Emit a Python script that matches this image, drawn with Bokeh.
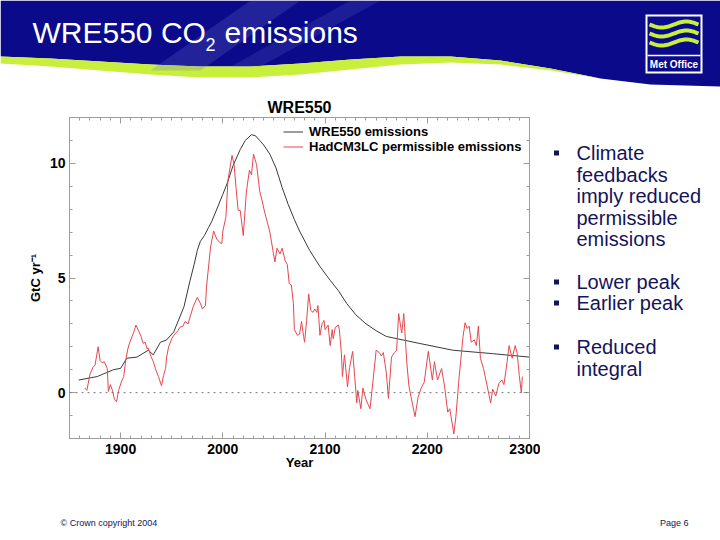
import numpy as np
from bokeh.plotting import figure
from bokeh.layouts import column, row
from bokeh.models import (Range1d, LinearAxis, SingleIntervalTicker, Span, CustomJSTickFormatter,
                          Legend, LegendItem)
from bokeh.embed import file_html
from bokeh.resources import INLINE
from bokeh.core.properties import value

# ---------------- data ----------------
wre_years = [1859, 1877, 1893, 1900, 1906, 1916, 1927, 1932, 1939, 1945,
             1952, 1962, 1968, 1972, 1975, 1978, 1982, 1986, 1989, 1995,
             2000, 2004, 2010, 2017, 2022, 2028, 2032, 2036, 2040, 2046,
             2052, 2058, 2064, 2070, 2075, 2085, 2095, 2105, 2113, 2121,
             2130, 2140, 2150, 2160, 2192, 2225, 2264, 2300]
wre_vals = [0.55, 0.7, 1.0, 1.06, 1.5, 1.55, 1.85, 1.65, 2.2, 2.3,
            2.65, 3.75, 4.9, 5.6, 6.2, 6.6, 6.85, 7.2, 7.45, 8.1,
            8.65, 9.1, 9.9, 10.6, 11.0, 11.25, 11.2, 11.0, 10.8, 10.4,
            9.8, 8.95, 8.2, 7.55, 7.05, 6.2, 5.5, 4.9, 4.45, 3.9,
            3.4, 3.0, 2.7, 2.45, 2.15, 1.85, 1.7, 1.55]
assert len(wre_years) == len(wre_vals)

had_years = [1865, 1867, 1870, 1873, 1875, 1878, 1880, 1882, 1884, 1887,
             1888, 1890, 1892, 1894, 1896, 1898, 1901, 1903, 1905, 1907,
             1909, 1913, 1915, 1918, 1920, 1922, 1924, 1926, 1927, 1930,
             1932, 1934, 1937, 1940, 1942, 1944, 1945, 1947, 1950, 1952,
             1954, 1956, 1958, 1961, 1963, 1966, 1968, 1971, 1975, 1978,
             1980, 1983, 1984, 1988, 1991, 1994, 1997, 1999, 2000, 2003,
             2005, 2009, 2011, 2013, 2015, 2017, 2020, 2023, 2026, 2028,
             2030, 2033, 2036, 2038, 2041, 2044, 2046, 2049, 2051, 2053,
             2056, 2058, 2061, 2063, 2065, 2067, 2069, 2070, 2073, 2075,
             2077, 2079, 2080, 2082, 2084, 2086, 2088, 2090, 2092, 2093,
             2095, 2097, 2099, 2100, 2103, 2105, 2107, 2108, 2110, 2113,
             2114, 2116, 2117, 2119, 2122, 2124, 2127, 2129, 2131, 2132,
             2135, 2137, 2140, 2144, 2147, 2150, 2153, 2155, 2157, 2160,
             2162, 2165, 2168, 2170, 2172, 2175, 2177, 2180, 2182, 2184,
             2188, 2191, 2194, 2197, 2201, 2205, 2207, 2210, 2214, 2217,
             2220, 2222, 2226, 2228, 2231, 2235, 2237, 2239, 2241, 2243,
             2246, 2248, 2250, 2252, 2255, 2259, 2262, 2264, 2267, 2270,
             2273, 2275, 2278, 2280, 2283, 2286, 2288, 2290, 2292, 2293]
had_vals = [0.2, 0.1, 0.8, 1.1, 1.2, 2.0, 1.4, 1.3, 1.35, 1.05,
            0.05, 0.35, 0.1, -0.3, -0.4, 0.1, 0.5, 0.7, 1.4, 1.9,
            2.2, 2.65, 2.95, 2.65, 2.45, 2.15, 2.2, 1.9, 1.95, 1.55,
            1.35, 1.05, 0.7, 0.3, 0.75, 1.05, 1.55, 2.0, 2.35, 2.5,
            2.6, 2.7, 2.85, 2.9, 3.1, 3.0, 3.3, 3.75, 4.15, 3.9,
            3.65, 3.8, 4.6, 6.35, 7.05, 6.7, 6.55, 6.5, 7.05, 7.65,
            9.25, 10.35, 9.95, 8.9, 7.95, 7.95, 6.85, 8.75, 9.7, 9.5,
            10.4, 9.95, 8.8, 8.45, 7.85, 7.35, 7.0, 6.2, 5.7, 6.3,
            6.05, 6.3, 5.75, 5.6, 4.75, 4.7, 3.9, 2.75, 2.5, 2.55,
            3.1, 2.45, 2.2, 3.15, 4.3, 3.6, 3.5, 3.65, 3.5, 3.8,
            2.5, 3.0, 3.15, 2.75, 2.95, 2.05, 2.75, 2.35, 2.85, 2.95,
            2.75, 1.7, 0.7, 1.65, 0.25, 1.1, 1.8, 0.7, -0.45, 0.1,
            -0.7, 0.2, -0.3, -0.7, 0.55, 1.85, 1.75, 1.6, 1.75, 0.85,
            -0.25, 1.55, 1.75, 1.85, 3.45, 2.6, 3.45, 1.3, 0.3, -0.15,
            -1.05, -0.2, 0.2, 0.45, 1.8, 0.55, 1.35, 0.55, 1.05, 0.25,
            -0.85, -0.7, -1.8, -1.05, 0.6, 2.45, 3.05, 2.8, 2.9, 2.2,
            2.3, 2.05, 2.9, 1.5, 1.05, 0.2, -0.45, 0.15, -0.15, 0.4,
            0.55, 0.35, 1.3, 2.05, 1.5, 2.05, 1.7, 0.75, 0.0, 0.7]
assert len(had_years) == len(had_vals)

series_labels = ["WRE550 emissions", "HadCM3LC permissible emissions"]
chart_title = "WRE550"
x_label = "Year"
y_label = "GtC yr\u207b\u00b9"
slide_title = ["WRE550 CO", "2", "emissions"]
bullet_lines = [["Climate", "feedbacks", "imply reduced", "permissible", "emissions"],
                ["Lower peak"], ["Earlier peak"], ["Reduced", "integral"]]
footer_left = "\u00a9 Crown copyright 2004"
footer_right = "Page 6"

# ---------------- style ----------------
FONT = "Liberation Sans"
NAVY = "#0a0a8a"
LIME = "#c8ef3c"
TXT = "#14145a"
GRAY = "#9c9c9c"


def deco(width, height, x0, x1, y0, y1, **kw):
    f = figure(width=width, height=height, x_range=Range1d(x0, x1), y_range=Range1d(y1, y0),
               output_backend="svg", toolbar_location=None,
               x_axis_location=None, y_axis_location=None, **kw)
    f.outline_line_color = None
    f.xgrid.visible = False
    f.ygrid.visible = False
    f.background_fill_color = "white"
    f.border_fill_color = "white"
    return f


# ---------------- header (page pixel coordinates) ----------------
h = deco(720, 90, 0, 720, 0, 90, min_border=0)
bx = [0, 50, 100, 150, 200, 250, 300, 350, 400, 450, 500, 550, 600, 650, 720]
by = [56, 58, 61, 64, 66, 66, 63, 59, 56, 56, 60, 68, 78, 84, 86]
gy = [63, 66, 70, 74, 77, 77, 74, 69, 64, 62, 64, 70, 78, 84, 86]
h.patch([0] + bx + [720], [0] + by + [0], fill_color=NAVY, line_color=None)
h.patch(bx + bx[::-1], by + gy[::-1], fill_color=LIME, line_color=None)
h.patch([150, 200, 300, 250], [70, 70, 0, 0], fill_color="#6a6ad0", fill_alpha=0.25, line_color=None)
h.patch([230, 260, 380, 350], [66, 66, 0, 0], fill_color="#6a6ad0", fill_alpha=0.2, line_color=None)
h.text(x=[32], y=[32], text=[slide_title[0]], text_font=value(FONT), text_font_size="30px",
       text_color="white", text_baseline="middle")
h.text(x=[205], y=[44], text=[slide_title[1]], text_font=value(FONT), text_font_size="18px",
       text_color="white", text_baseline="middle")
h.text(x=[224], y=[32], text=[slide_title[2]], text_font=value(FONT), text_font_size="30px",
       text_color="white", text_baseline="middle")
# logo
h.quad(left=645, right=702, top=14, bottom=73, fill_color="white", line_color=None)
h.quad(left=647, right=700, top=16, bottom=71, fill_color=NAVY, line_color=None)
wx = np.linspace(649, 698, 40)
for base in (24, 33, 42):
    h.line(wx, base + 3 * np.sin((wx - 649) / 49 * 2 * np.pi), line_color=LIME, line_width=4)
h.line([647, 700], [55, 55], line_color="white", line_width=1.5)
h.text(x=[673.5], y=[63.5], text=["Met Office"], text_font=value(FONT), text_font_size="10px",
       text_font_style="bold", text_color="white", text_align="center", text_baseline="middle")

# ---------------- chart ----------------
p = figure(width=540, height=410, x_range=Range1d(1850, 2300), y_range=Range1d(-2, 12),
           output_backend="svg", toolbar_location=None,
           min_border_left=69, min_border_right=11, min_border_top=27, min_border_bottom=62)
p.xgrid.visible = False
p.ygrid.visible = False
p.outline_line_color = GRAY
bottom_ax = p.below[0]
left_ax = p.left[0]
top_ax = LinearAxis()
right_ax = LinearAxis()
p.add_layout(top_ax, "above")
p.add_layout(right_ax, "right")

for ax in [bottom_ax, top_ax]:
    ax.ticker = SingleIntervalTicker(interval=100, num_minor_ticks=10)
for ax in [left_ax, right_ax]:
    ax.ticker = SingleIntervalTicker(interval=5, num_minor_ticks=5)
for ax in [bottom_ax, left_ax, top_ax, right_ax]:
    ax.axis_line_color = GRAY
    ax.major_tick_line_color = GRAY
    ax.minor_tick_line_color = GRAY
    ax.major_tick_in = 6
    ax.major_tick_out = 0
    ax.minor_tick_in = 3
    ax.minor_tick_out = 0
    ax.major_label_text_font = FONT
    ax.major_label_text_font_style = "bold"
    ax.major_label_text_font_size = "14px"
    ax.major_label_text_color = "black"
    ax.axis_label_text_font = FONT
    ax.axis_label_text_font_style = "bold"
    ax.axis_label_text_font_size = "13px"
    ax.axis_label_text_color = "black"
for ax in [top_ax, right_ax]:
    ax.formatter = CustomJSTickFormatter(code="return ''")
    ax.major_label_text_font_size = "0px"
    ax.major_label_standoff = 0
top_ax.axis_label = chart_title
top_ax.axis_label_text_font_size = "16px"
top_ax.axis_label_standoff = 2
bottom_ax.axis_label = x_label
bottom_ax.major_label_standoff = 5
bottom_ax.axis_label_standoff = -2
left_ax.axis_label = y_label
left_ax.major_label_standoff = 4
left_ax.axis_label_standoff = 4

p.add_layout(Span(location=0, dimension="width", line_color="#777777", line_dash="2 4", line_width=1))

r_wre = p.line(wre_years, wre_vals, line_color="#3a3a3a", line_width=1)
r_had = p.line(had_years, had_vals, line_color="#e6474d", line_width=1)

lg = Legend(items=[LegendItem(label=series_labels[0], renderers=[r_wre]),
                   LegendItem(label=series_labels[1], renderers=[r_had])],
            location=(214, 284))
lg.border_line_color = None
lg.background_fill_alpha = 0
lg.padding = 0
lg.margin = 0
lg.spacing = 0
lg.label_height = 13
lg.glyph_height = 13
lg.glyph_width = 20
lg.label_standoff = 6
lg.label_text_font = FONT
lg.label_text_font_style = "bold"
lg.label_text_font_size = "13px"
lg.label_text_color = "black"
p.add_layout(lg)

# ---------------- bullets (frame aligned with chart frame: page y 117..438) ----------------
bf = deco(180, 410, 540, 720, 117, 438, min_border_left=0, min_border_right=0,
          min_border_top=27, min_border_bottom=62)
line_y = [[152.5, 174, 195.5, 217, 238.5], [281.5], [302.5], [346.5, 368]]
bxs, bys, tx, ty, tt = [], [], [], [], []
for group, ys in zip(bullet_lines, line_y):
    bxs.append(556)
    bys.append(ys[0])
    for t, yy in zip(group, ys):
        tx.append(576)
        ty.append(yy)
        tt.append(t)
bf.scatter(bxs, bys, marker="square", size=5, fill_color=TXT, line_color=None)
bf.text(x=tx, y=ty, text=tt, text_font=value(FONT), text_font_size="20px", text_color=TXT,
        text_baseline="middle")

# ---------------- footer ----------------
ft = deco(720, 40, 0, 720, 500, 540, min_border=0)
ft.text(x=[60], y=[522], text=[footer_left], text_font=value(FONT), text_font_size="9px",
        text_color=TXT, text_baseline="middle")
ft.text(x=[688], y=[522], text=[footer_right], text_font=value(FONT), text_font_size="9px",
        text_color=TXT, text_baseline="middle", text_align="right")

layout = column(h, row(p, bf), ft)
open("out.html", "w").write(file_html(layout, INLINE))
